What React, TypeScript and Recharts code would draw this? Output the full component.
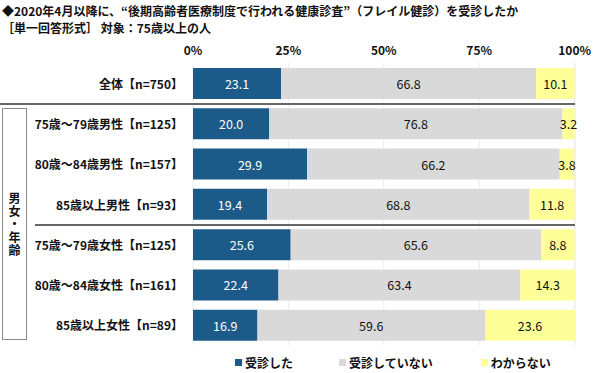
import { BarChart, Bar, XAxis, YAxis, CartesianGrid, LabelList } from 'recharts';

const categories = [
  '全体【n=750】',
  '75歳～79歳男性【n=125】',
  '80歳～84歳男性【n=157】',
  '85歳以上男性【n=93】',
  '75歳～79歳女性【n=125】',
  '80歳～84歳女性【n=161】',
  '85歳以上女性【n=89】',
];
const received = [23.1, 20.0, 29.9, 19.4, 25.6, 22.4, 16.9];
const notReceived = [66.8, 76.8, 66.2, 68.8, 65.6, 63.4, 59.6];
const unknown = [10.1, 3.2, 3.8, 11.8, 8.8, 14.3, 23.6];
const xTicks = [0, 25, 50, 75, 100];

const seriesNames = ['受診した', '受診していない', 'わからない'];
const colors = ['#1c5a8a', '#d9d9d9', '#ffff99'];

const data = categories.map((name, i) => ({
  name,
  received: received[i],
  notReceived: notReceived[i],
  unknown: unknown[i],
}));

const font = '"Noto Sans CJK JP", "Noto Sans", sans-serif';

const YTick = (props: any) => {
  const { x, y, payload } = props;
  return (
    <text x={x} y={y} textAnchor="end" dominantBaseline="central" fontSize={12} fontWeight="bold" fill="#111" fontFamily={font}>
      {payload.value}
    </text>
  );
};

const makeLabel = (color: string) => (props: any) => {
  const { x, y, width, height, value } = props;
  return (
    <text
      x={x + width / 2}
      y={y + height / 2}
      textAnchor="middle"
      dominantBaseline="central"
      fontSize={12.5}
      fill={color}
      fontFamily={font}
    >
      {Number(value).toFixed(1)}
    </text>
  );
};

export default function App() {
  return (
    <div style={{ position: 'absolute', left: 0, top: 0, width: 600, height: 373, background: '#fff', fontFamily: font }}>
      <div style={{ position: 'absolute', left: 2, top: 2, fontSize: 12, fontWeight: 'bold', color: '#111', whiteSpace: 'nowrap', lineHeight: '17px' }}>
        ◆2020年4月以降に、“後期高齢者医療制度で行われる健康診査”（フレイル健診）を受診したか
        <br />
        ［単一回答形式］ 対象：75歳以上の人
      </div>
      <BarChart
        width={600}
        height={373}
        data={data}
        layout="vertical"
        margin={{ top: 33, right: 25, bottom: 28, left: 0 }}
        barSize={31}
      >
        <CartesianGrid horizontal={false} stroke="#ececec" />
        <XAxis
          type="number"
          orientation="top"
          domain={[0, 100]}
          ticks={xTicks}
          tickFormatter={(v) => `${v}%`}
          axisLine={false}
          tickLine={false}
          height={30}
          interval={0}
          tick={{ fontSize: 12, fontWeight: 'bold', fill: '#111', fontFamily: font }}
        />
        <YAxis
          type="category"
          dataKey="name"
          width={193}
          axisLine={false}
          tickLine={false}
          tickMargin={4}
          tick={<YTick />}
          interval={0}
        />
        <Bar dataKey="received" stackId="a" fill={colors[0]} isAnimationActive={false}>
          <LabelList dataKey="received" content={makeLabel('#fff')} />
        </Bar>
        <Bar dataKey="notReceived" stackId="a" fill={colors[1]} isAnimationActive={false}>
          <LabelList dataKey="notReceived" content={makeLabel('#111')} />
        </Bar>
        <Bar dataKey="unknown" stackId="a" fill={colors[2]} isAnimationActive={false}>
          <LabelList dataKey="unknown" content={makeLabel('#111')} />
        </Bar>
      </BarChart>
      {/* group separators */}
      <div style={{ position: 'absolute', left: 0, top: 103, width: 575, height: 0, borderTop: '2px solid #666' }} />
      <div style={{ position: 'absolute', left: 35, top: 224, width: 540, height: 0, borderTop: '2px solid #666' }} />
      <div
        style={{
          position: 'absolute',
          left: 2,
          top: 108,
          width: 23,
          height: 230,
          border: '1px solid #888',
          display: 'flex',
          alignItems: 'center',
          justifyContent: 'center',
        }}
      >
        <span style={{ writingMode: 'vertical-rl', fontSize: 12, fontWeight: 'bold', color: '#111', letterSpacing: 1 }}>男女・年齢</span>
      </div>
      {/* legend */}
      <div style={{ position: 'absolute', top: 354, left: 235, display: 'flex', fontSize: 12, fontWeight: 'bold', color: '#111' }}>
        {seriesNames.map((n, i) => (
          <div key={n} style={{ display: 'flex', alignItems: 'center', marginRight: i === 0 ? 46 : 48 }}>
            <span style={{ display: 'inline-block', width: 7, height: 7, background: colors[i], marginRight: 3 }} />
            {n}
          </div>
        ))}
      </div>
    </div>
  );
}
